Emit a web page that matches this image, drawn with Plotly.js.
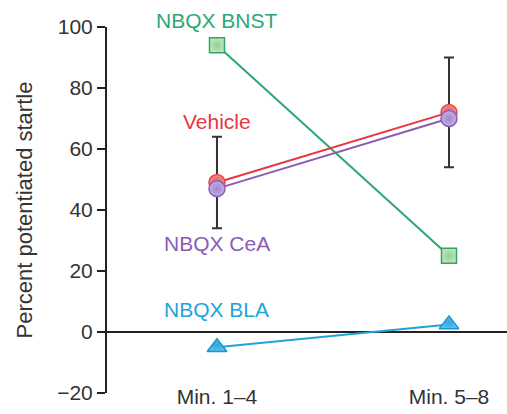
<!DOCTYPE html>
<html>
<head>
<meta charset="utf-8">
<script src="https://cdn.plot.ly/plotly-3.0.1.min.js"></script>
<style>
  html, body { margin: 0; padding: 0; background: #fff; }
  #chart { width: 507px; height: 414px; }
</style>
</head>
<body>
<div id="chart"></div>
<script>
// Time bins on the x axis
const periods = ['Min. 1\u20134', 'Min. 5\u20138'];
const periodPos = [0, 1];

// Percent potentiated startle per group
const bnst = [94, 25];
const bla = [-5, 2.5];
const vehicle = [49, 72];
const vehicleErr = [15, 18];
const cea = [47, 70];

// Group labels and where they sit (y in data units, at the first bin)
const groupNames = ['NBQX BNST', 'Vehicle', 'NBQX CeA', 'NBQX BLA'];
const groupLabelY = [102, 69, 29, 7.5];
const groupColors = ['#2aa872', '#e8353f', '#8a5cb4', '#1ea4d8'];

const yTicks = [-20, 0, 20, 40, 60, 80, 100];
const yRange = [-20, 100];
const FONT = 'Liberation Sans, Arial, Helvetica, sans-serif';

const traces = [
  {
    x: periodPos, y: bnst, type: 'scatter', mode: 'lines+markers',
    line: { color: '#2aa872', width: 2 },
    marker: { symbol: 'square', size: 15, color: '#bfe5b9',
              gradient: { type: 'radial', color: '#8fd091' },
              line: { color: '#35a468', width: 1.5 } },
    cliponaxis: false, hoverinfo: 'skip'
  },
  {
    x: periodPos, y: bla, type: 'scatter', mode: 'lines+markers',
    line: { color: '#1ea4d8', width: 2 },
    marker: { symbol: 'triangle-up', size: 17, color: '#5cc0ea',
              gradient: { type: 'radial', color: '#2fa8df' },
              line: { color: '#1a96cf', width: 1.5 } },
    cliponaxis: false, hoverinfo: 'skip'
  },
  {
    x: periodPos, y: vehicle, type: 'scatter', mode: 'lines+markers',
    line: { color: '#e8353f', width: 2 },
    marker: { symbol: 'circle', size: 16, color: '#f48a86',
              gradient: { type: 'radial', color: '#e85a5a' },
              line: { color: '#e8454d', width: 1.5 } },
    error_y: { type: 'data', array: vehicleErr, visible: true,
               color: '#333333', thickness: 2, width: 5 },
    cliponaxis: false, hoverinfo: 'skip'
  },
  {
    x: periodPos, y: cea, type: 'scatter', mode: 'lines+markers',
    line: { color: '#8a5cb4', width: 2 },
    marker: { symbol: 'circle', size: 16, color: '#c4aee2',
              gradient: { type: 'radial', color: '#a486cf' },
              line: { color: '#8a5cb4', width: 1.5 } },
    cliponaxis: false, hoverinfo: 'skip'
  }
];

// Labels are placed on the paper so the top one can sit above the axis range
const toPaper = v => (v - yRange[0]) / (yRange[1] - yRange[0]);
const annotations = groupNames.map((name, i) => ({
  x: periodPos[0], y: toPaper(groupLabelY[i]), xref: 'x', yref: 'paper',
  text: name, showarrow: false,
  font: { family: FONT, size: 21, color: groupColors[i] },
  xanchor: 'center', yanchor: 'middle'
}));

const layout = {
  width: 507, height: 414,
  margin: { l: 107, r: 0, t: 27, b: 21 },
  paper_bgcolor: '#ffffff', plot_bgcolor: '#ffffff',
  showlegend: false,
  font: { family: FONT, size: 21, color: '#333333' },
  xaxis: {
    range: [-0.474, 1.25],
    tickvals: periodPos, ticktext: periods,
    showgrid: false, zeroline: false, showline: false, ticks: '',
    anchor: 'free', position: 0.03,
    tickfont: { family: FONT, size: 21, color: '#333333' },
    fixedrange: true
  },
  yaxis: {
    range: yRange,
    tickvals: yTicks,
    ticktext: yTicks.map(v => v < 0 ? '\u2212' + Math.abs(v) : String(v)),
    showgrid: false,
    zeroline: true, zerolinecolor: '#222222', zerolinewidth: 1.5,
    showline: true, linecolor: '#222222', linewidth: 2,
    ticks: 'outside', ticklen: 8, tickwidth: 2, tickcolor: '#222222',
    tickfont: { family: FONT, size: 21, color: '#333333' },
    title: { text: 'Percent potentiated startle', standoff: 18,
             font: { family: FONT, size: 22, color: '#333333' } },
    fixedrange: true
  },
  annotations: annotations
};

Plotly.newPlot('chart', traces, layout, { staticPlot: true, displayModeBar: false });
</script>
</body>
</html>
